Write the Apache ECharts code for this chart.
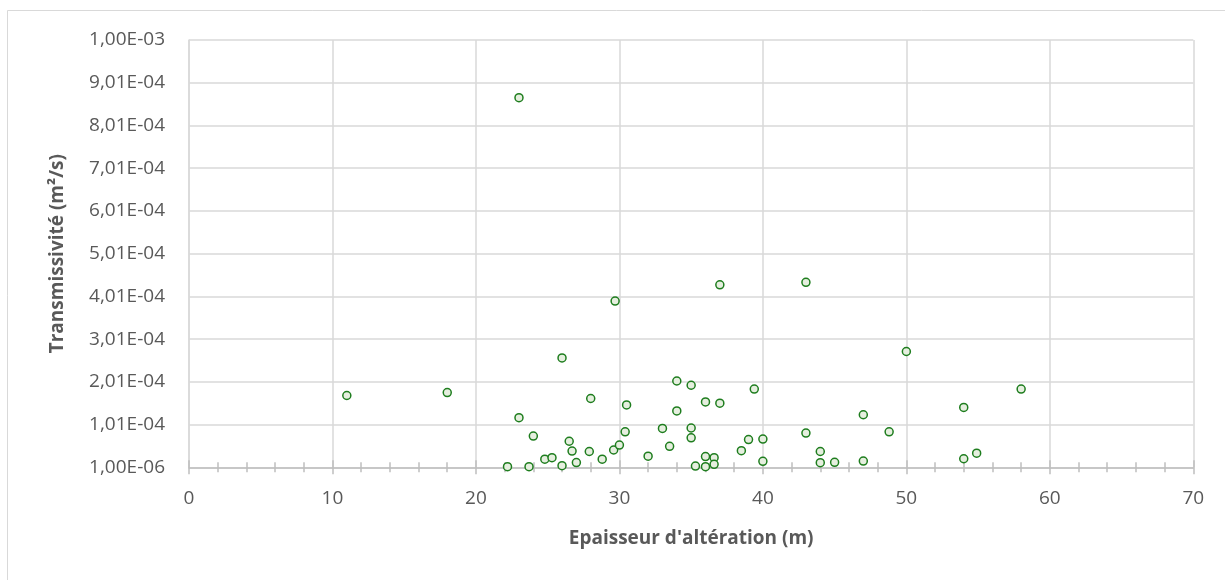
<!DOCTYPE html>
<html>
<head>
<meta charset="utf-8">
<script src="https://cdn.jsdelivr.net/npm/echarts@6/dist/echarts.min.js"></script>
<style>
html,body{margin:0;padding:0;background:#fff;}
#chart{width:1225px;height:580px;}
</style>
</head>
<body>
<div id="chart"></div>
<script>
// Epaisseur d'altération (m)
const thickness = [11, 18, 22.2, 23, 23, 23.7, 24, 24.8, 25.3, 26, 26, 26.5, 26.7, 27, 27.9, 28, 28.8, 29.6, 29.7, 30, 30.4, 30.5, 32, 33, 33.5, 34, 34, 35, 35, 35, 35.3, 36, 36, 36, 36.6, 36.6, 37, 37, 38.5, 39, 39.4, 40, 40, 43, 43, 44, 44, 45, 47, 47, 48.8, 50, 54, 54, 54.9, 58];
// Transmissivité (m²/s)
const transmissivity = [1.69e-4, 1.76e-4, 2.4e-6, 1.17e-4, 8.66e-4, 2.4e-6, 7.4e-5, 2.0e-5, 2.35e-5, 4.7e-6, 2.57e-4, 6.2e-5, 3.9e-5, 1.2e-5, 3.8e-5, 1.62e-4, 2.0e-5, 4.15e-5, 3.9e-4, 5.3e-5, 8.4e-5, 1.47e-4, 2.7e-5, 9.2e-5, 5.0e-5, 2.03e-4, 1.33e-4, 1.93e-4, 9.3e-5, 7.0e-5, 4e-6, 1.54e-4, 2.6e-5, 2.4e-6, 2.35e-5, 8e-6, 1.51e-4, 4.28e-4, 4.0e-5, 6.6e-5, 1.84e-4, 6.7e-5, 1.5e-5, 8.1e-5, 4.34e-4, 3.8e-5, 1.18e-5, 1.27e-5, 1.24e-4, 1.57e-5, 8.4e-5, 2.72e-4, 1.41e-4, 2.1e-5, 3.4e-5, 1.84e-4];

const xName = "Epaisseur d'altération (m)";
const yName = "Transmissivité (m²/s)";
const xMin = 0, xMax = 70, xStep = 10;
const yMin = 1e-6, yMax = 1.001e-3, yStep = 1e-4;

function sci(v){
  const s = v.toExponential(2);
  const parts = s.split('e');
  const e = parseInt(parts[1], 10);
  const sign = e < 0 ? '-' : '+';
  return parts[0].replace('.', ',') + 'E' + sign + String(Math.abs(e)).padStart(2, '0');
}

const points = thickness.map((x, i) => [x, transmissivity[i]]);
const font = '"Open Sans", "Noto Sans", sans-serif';
const textColor = '#595959';

const chart = echarts.init(document.getElementById('chart'), null, {renderer: 'canvas'});
chart.setOption({
  animation: false,
  backgroundColor: '#ffffff',
  graphic: [{
    type: 'rect',
    shape: {x: 7.5, y: 10.5, width: 1400, height: 800},
    style: {fill: 'none', stroke: '#d9d9d9', lineWidth: 1},
    silent: true,
    z: -10
  }],
  grid: {left: 189, right: 31.7, top: 40, bottom: 112.7, containLabel: false},
  xAxis: [{
    type: 'value',
    min: xMin, max: xMax, interval: xStep,
    name: xName,
    nameLocation: 'middle',
    nameGap: 62,
    nameTextStyle: {fontFamily: font, fontSize: 19, fontWeight: 'bold', color: textColor},
    axisLine: {show: true, onZero: false, lineStyle: {color: '#bfbfbf', width: 1.5}},
    axisTick: {show: true, length: 7, lineStyle: {color: '#bfbfbf', width: 1.5}},
    minorTick: {show: true, splitNumber: 5, length: 5, lineStyle: {color: '#bfbfbf', width: 1.5}},
    axisLabel: {fontFamily: font, fontSize: 19, color: textColor, margin: 22},
    splitLine: {show: true, lineStyle: {color: '#d9d9d9', width: 1.5}}
  }, {
    type: 'value',
    min: xMin, max: xMax, interval: xStep,
    position: 'bottom',
    axisLine: {show: false},
    axisTick: {show: true, inside: true, length: 7, lineStyle: {color: '#bfbfbf', width: 1.5}},
    minorTick: {show: true, splitNumber: 5, length: 5, lineStyle: {color: '#bfbfbf', width: 1.5}},
    axisLabel: {show: false},
    splitLine: {show: false}
  }],
  yAxis: {
    type: 'value',
    min: yMin, max: yMax, interval: yStep,
    name: yName,
    nameLocation: 'middle',
    nameGap: 122,
    nameTextStyle: {fontFamily: font, fontSize: 19, fontWeight: 'bold', color: textColor},
    axisLine: {show: true, lineStyle: {color: '#d9d9d9', width: 1.5}},
    axisTick: {show: false},
    axisLabel: {fontFamily: font, fontSize: 19, color: textColor, margin: 24, formatter: sci},
    splitLine: {show: true, lineStyle: {color: '#d9d9d9', width: 1.5}}
  },
  series: [{
    type: 'scatter',
    xAxisIndex: 0,
    data: points,
    symbol: 'circle',
    symbolSize: 8,
    itemStyle: {color: '#e6efdf', borderColor: '#1e7d1e', borderWidth: 1.5, opacity: 1}
  }]
});
</script>
</body>
</html>
